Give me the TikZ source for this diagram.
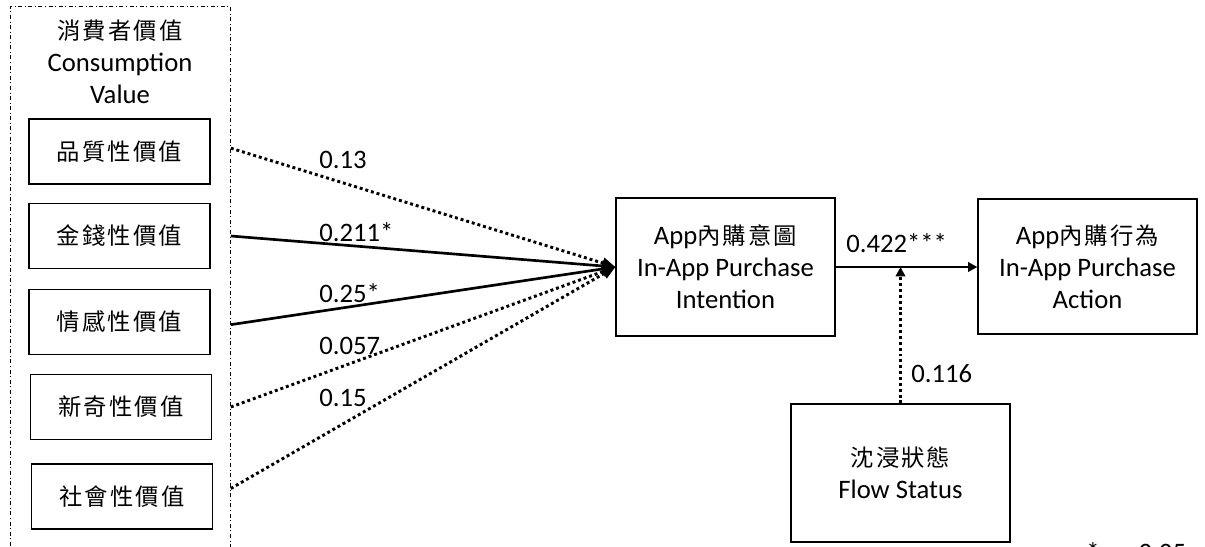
\documentclass[tikz,border=0pt]{standalone}
\usepackage{fontspec}
\setmainfont{Carlito}
\newfontfamily\cjk[LetterSpace=9]{Noto Sans CJK TC}
\newcommand{\zhtxt}[1]{{\cjk\fontsize{17.5}{24}\selectfont #1}}
\usetikzlibrary{positioning}
\usetikzlibrary{arrows.meta}

\begin{document}
\begin{tikzpicture}[x=0.75pt,y=-0.75pt,
      font=\fontsize{20}{24}\selectfont,
      value style/.style={rectangle,draw=black,line width=1.1pt,
        minimum width=135.75pt,minimum height=48.75pt,inner sep=0pt},
      var style/.style={rectangle,draw=black,line width=0.9pt,align=center,
        minimum width=164.25pt,minimum height=103.5pt,inner sep=0pt},
      solid path/.style={line width=2pt,-{Triangle[length=10pt,width=8pt]}},
      dot path/.style={line width=2.2pt,dash pattern=on 2.2pt off 2.2pt,
        -{Triangle[length=10pt,width=8pt]}},
      coef/.style={anchor=west,inner sep=0pt}
      ]
      \useasboundingbox (0,0) rectangle (1205,546);
      % consumption value group
      \node[draw=black,line width=0.6pt,dash dot,anchor=north west,
        minimum width=165pt,minimum height=416pt,inner sep=0pt] (cv) at (10,6) {};
      \node[align=center] (cvtitle) at (120,62) {\zhtxt{消費者價值}\\Consumption\\Value};
      \node[value style] (quality) at (119.5,151.5) {\zhtxt{品質性價值}};
      \node[value style] (money) at (119.5,236) {\zhtxt{金錢性價值}};
      \node[value style] (emotion) at (119.5,322) {\zhtxt{情感性價值}};
      \node[value style] (novelty) at (121,407) {\zhtxt{新奇性價值}};
      \node[value style] (social) at (122,496.5) {\zhtxt{社會性價值}};
      % intention, action, flow
      \node[var style] (intent) at (725.5,267) {App\zhtxt{內購意圖}\\In-App Purchase\\Intention};
      \node[var style,minimum height=101.25pt] (action) at (1087.5,266.5) {App\zhtxt{內購行為}\\In-App Purchase\\Action};
      \node[var style] (flow) at (900.5,473) {\zhtxt{沈浸狀態}\\Flow Status};
      % paths to intention
      \draw[dot path] ([yshift=2.5pt]quality.east -| cv.east) -- (intent.west);
      \draw[solid path] (money.east -| cv.east) -- (intent.west);
      \draw[solid path] ([yshift=-2pt]emotion.east -| cv.east) -- (intent.west);
      \draw[dot path] (novelty.east -| cv.east) -- (intent.west);
      \draw[dot path] ([yshift=6pt]social.east -| cv.east) -- (intent.west);
      \node[coef] (c1) at (319,160) {0.13};
      \node[coef] (c2) at (319,232) {0.211*};
      \node[coef] (c3) at (319,293) {0.25*};
      \node[coef] (c4) at (319,346) {0.057};
      \node[coef] (c5) at (319,398) {0.15};
      % intention to action, moderated by flow
      \draw[line width=2pt,-{Triangle[length=7pt,width=7pt]}] (intent.east) -- (intent.east -| action.west);
      \coordinate (meet) at (flow.north |- intent.east);
      \draw[line width=2.2pt,dash pattern=on 2.2pt off 2.2pt,
        -{Triangle[length=7pt,width=7pt]}] (flow.north) -- (meet);
      \node[coef] (c6) at (846,243) {0.422***};
      \node[coef] (c7) at (911,374) {0.116};
      \node[anchor=base west,inner sep=0pt] (note) at (1086,561) {*p < 0.05};
    \end{tikzpicture}
\end{document}
